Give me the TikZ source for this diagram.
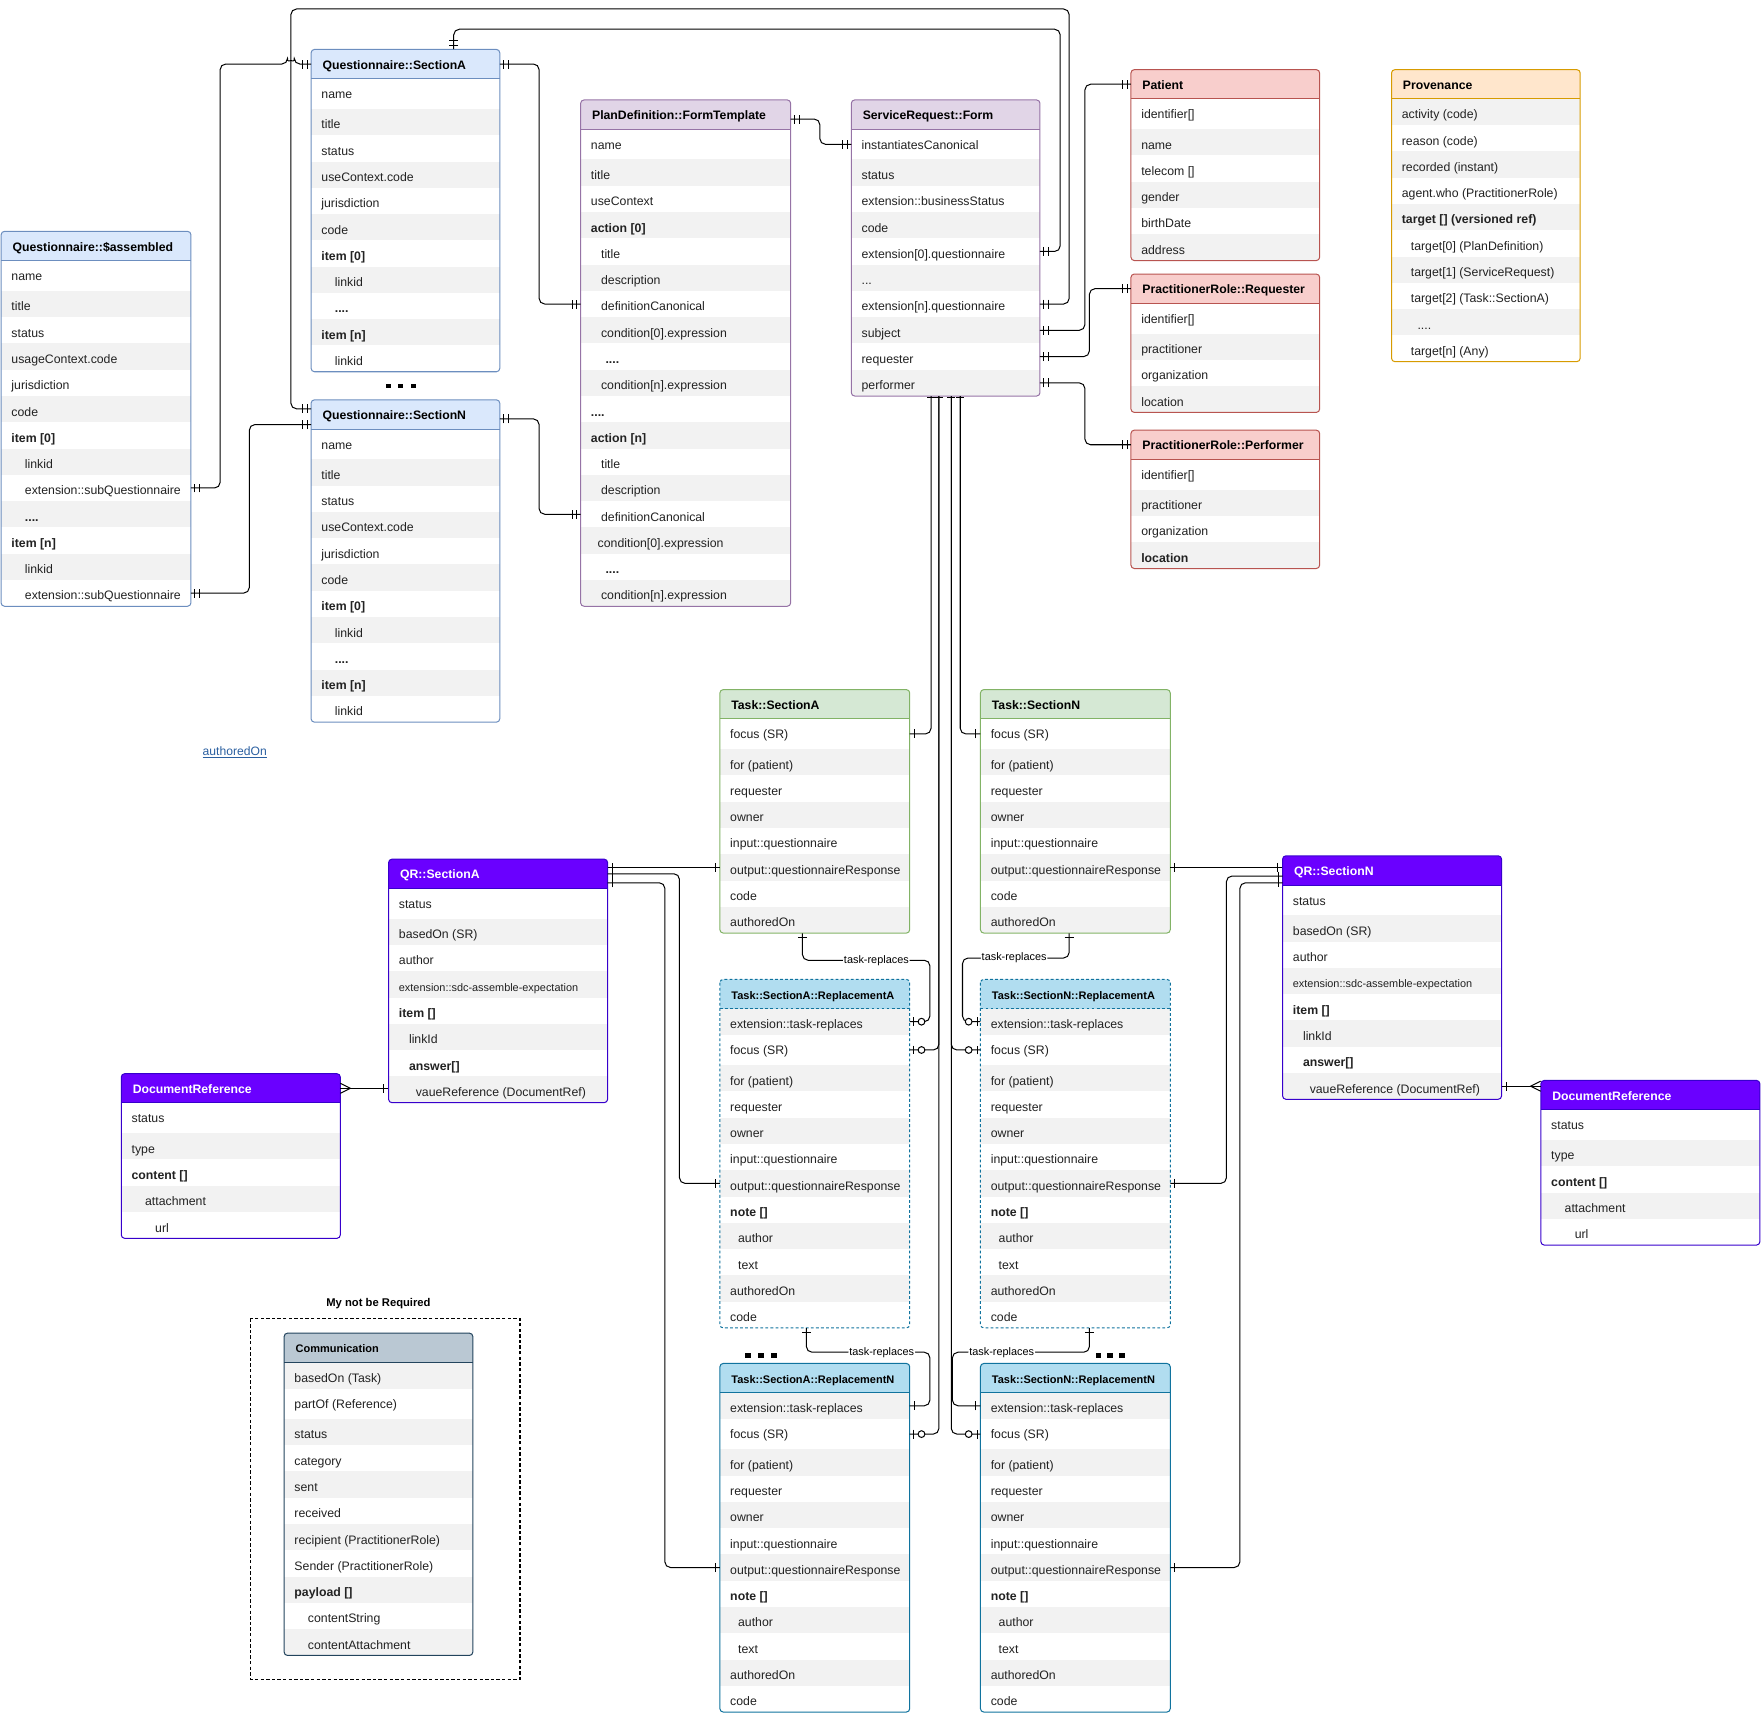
\documentclass[tikz,border=0pt]{standalone}
\usepackage{fontspec}
\setmainfont{Liberation Sans}
\usetikzlibrary{decorations.markings,fit}

\definecolor{hdrblue}{HTML}{DAE8FC}\definecolor{brdblue}{HTML}{6C8EBF}
\definecolor{hdrpurple}{HTML}{E1D5E7}\definecolor{brdpurple}{HTML}{9673A6}
\definecolor{hdrred}{HTML}{F8CECC}\definecolor{brdred}{HTML}{B85450}
\definecolor{hdrorange}{HTML}{FFE6CC}\definecolor{brdorange}{HTML}{D79B00}
\definecolor{hdrgreen}{HTML}{D5E8D4}\definecolor{brdgreen}{HTML}{82B366}
\definecolor{hdrlblue}{HTML}{B1DDF0}\definecolor{brdlblue}{HTML}{10739E}
\definecolor{hdrviolet}{HTML}{6A00FF}\definecolor{brdviolet}{HTML}{3700CC}
\definecolor{hdrslate}{HTML}{BAC8D3}\definecolor{brdslate}{HTML}{23445D}
\definecolor{rowgrey}{HTML}{F2F2F2}
\definecolor{txt}{HTML}{222222}
\definecolor{linkblue}{HTML}{2A5FA0}

\newcommand{\rhfont}{\fontsize{9.8}{11}\selectfont}
\newcommand{\sdcfont}{\fontsize{9.7}{11}\selectfont}

\tikzset{
  htxt/.style={anchor=base west, inner sep=0pt, font=\bfseries\fontsize{10.9}{13}\selectfont, text=black},
  rowtext/.style={anchor=base west, inner sep=0pt, font=\fontsize{10.95}{13}\selectfont, text=txt},
  hdr blue/.style={fill=hdrblue}, brd blue/.style={draw=brdblue}, htxt blue/.style={htxt},
  hdr purple/.style={fill=hdrpurple}, brd purple/.style={draw=brdpurple}, htxt purple/.style={htxt},
  hdr red/.style={fill=hdrred}, brd red/.style={draw=brdred}, htxt red/.style={htxt},
  hdr orange/.style={fill=hdrorange}, brd orange/.style={draw=brdorange}, htxt orange/.style={htxt},
  hdr green/.style={fill=hdrgreen}, brd green/.style={draw=brdgreen}, htxt green/.style={htxt},
  hdr lblue/.style={fill=hdrlblue}, brd lblue/.style={draw=brdlblue}, htxt lblue/.style={htxt},
  hdr lbluedash/.style={fill=hdrlblue}, brd lbluedash/.style={draw=brdlblue, dash pattern=on 2.5pt off 2pt}, htxt lbluedash/.style={htxt},
  hdr violet/.style={fill=hdrviolet}, brd violet/.style={draw=brdviolet}, htxt violet/.style={htxt, text=white},
  hdr slate/.style={fill=hdrslate}, brd slate/.style={draw=brdslate}, htxt slate/.style={htxt},
  conn/.style={draw=black, line width=0.9pt, rounded corners=5pt},
  mkl/.style={draw=black, line width=0.9pt, solid, sharp corners},
  mandS/.style={postaction={decorate, decoration={markings, mark=at position 0 with {\draw[mkl] (3.5pt,-4pt) -- (3.5pt,4pt) (7.5pt,-4pt) -- (7.5pt,4pt);}}}},
  mandE/.style={postaction={decorate, decoration={markings, mark=at position 1 with {\draw[mkl] (-3.5pt,-4pt) -- (-3.5pt,4pt) (-7.5pt,-4pt) -- (-7.5pt,4pt);}}}},
  edgeS/.style={postaction={decorate, decoration={markings, mark=at position 0 with {\draw[mkl, line width=1.4pt] (1.2pt,-3.6pt) -- (1.2pt,3.6pt);}}}},
  oneS/.style={postaction={decorate, decoration={markings, mark=at position 0 with {\draw[mkl] (4pt,-4pt) -- (4pt,4pt);}}}},
  oneE/.style={postaction={decorate, decoration={markings, mark=at position 1 with {\draw[mkl] (-4pt,-4pt) -- (-4pt,4pt);}}}},
  zoE/.style={postaction={decorate, decoration={markings, mark=at position 1 with {\draw[mkl] (-3pt,-4pt) -- (-3pt,4pt); \draw[mkl, fill=white] (-10.5pt,0pt) circle (3pt);}}}},
  manyS/.style={postaction={decorate, decoration={markings, mark=at position 0 with {\draw[mkl] (0pt,-4.5pt) -- (9pt,0pt) -- (0pt,4.5pt);}}}},
  manyE/.style={postaction={decorate, decoration={markings, mark=at position 1 with {\draw[mkl] (0pt,-4.5pt) -- (-9pt,0pt) -- (0pt,4.5pt);}}}},
  lbl/.style={fill=white, inner sep=0.8pt, font=\fontsize{9.7}{11}\selectfont, text=black},
  grouptitle/.style={font=\bfseries\fontsize{10}{12}\selectfont, text=black, inner sep=0pt},
  groupbox/.style={draw=black, line width=0.9pt, dash pattern=on 3pt off 2pt},
  linktext/.style={font=\fontsize{10.8}{13}\selectfont, text=linkblue, inner sep=0pt},
}

\newcount\ernrows
% #1 name, #2 x0, #3 x1, #4 ytop, #5 scheme, #6 header, #7 tall row index, #8 grey parity, #9 rows
\newcommand{\ertable}[9]{%
  \global\ernrows=0\relax
  \foreach \err in {#9}{\global\advance\ernrows by 1\relax}%
  \pgfmathsetmacro\erhb{#4+26}%
  \pgfmathsetmacro\erbot{#4+26+23.4*\the\ernrows+3.6*(#7<\the\ernrows)}%
  \begin{scope}
    \clip[rounded corners=3pt] (#2,#4) rectangle (#3,\erbot);
    \fill[white] (#2,#4) rectangle (#3,\erbot);
    \fill[hdr #5] (#2,#4) rectangle (#3,\erhb);
    \foreach \erind/\ertxt [count=\erk from 0] in {#9}{%
      \pgfmathsetmacro\eryt{\erhb+23.4*\erk+3.6*(\erk>#7)}%
      \pgfmathsetmacro\eryb{\eryt+23.4+3.6*(\erk==#7)}%
      \pgfmathtruncatemacro\ergrey{mod(\erk,2)==#8}%
      \ifnum\ergrey=1 \fill[rowgrey] (#2,\eryt) rectangle (#3,\eryb);\fi
    }%
  \end{scope}
  \draw[brd #5, line width=0.9pt, rounded corners=3pt] (#2,#4) rectangle (#3,\erbot);
  \draw[brd #5, line width=0.9pt] (#2,\erhb) -- (#3,\erhb);
  \node[inner sep=0pt, fit={(#2,#4) (#3,\erbot)}] (#1) {};
  \node[htxt #5] (#1-t) at (#2+10,#4+17.5) {#6};
  \coordinate (#1-h-w) at (#2,#4+13);
  \coordinate (#1-h-e) at (#3,#4+13);
  \foreach \erind/\ertxt [count=\erk from 0] in {#9}{%
    \pgfmathsetmacro\eryt{\erhb+23.4*\erk+3.6*(\erk>#7)}%
    \pgfmathsetmacro\eryb{\eryt+23.4+3.6*(\erk==#7)}%
    \node[rowtext] (#1-r\erk) at (#2+\erind,\eryt+17.8) {\ertxt};
    \coordinate (#1-\erk-w) at (#2,{(\eryt+\eryb)/2});
    \coordinate (#1-\erk-e) at (#3,{(\eryt+\eryb)/2});
  }%
}

\begin{document}
\begin{tikzpicture}[x=1pt,y=-1pt]
\useasboundingbox (0,0) rectangle (1568,1527);

% ---------- tables ----------
\ertable{qas}{1}{170}{206}{blue}{Questionnaire::\$assembled}{0}{1}{9/{name}, 9/{title}, 9/{status}, 9/{usageContext.code}, 9/{jurisdiction}, 9/{code}, 9/{\textbf{item [0]}}, 21/{linkid}, 21/{extension::subQuestionnaire}, 21/{\textbf{....}}, 9/{\textbf{item [n]}}, 21/{linkid}, 21/{extension::subQuestionnaire}}

\ertable{qa}{277}{445}{44}{blue}{Questionnaire::SectionA}{0}{1}{9/{name}, 9/{title}, 9/{status}, 9/{useContext.code}, 9/{jurisdiction}, 9/{code}, 9/{\textbf{item [0]}}, 21/{linkid}, 21/{\textbf{....}}, 9/{\textbf{item [n]}}, 21/{linkid}}

\ertable{qn}{277}{445}{356}{blue}{Questionnaire::SectionN}{0}{1}{9/{name}, 9/{title}, 9/{status}, 9/{useContext.code}, 9/{jurisdiction}, 9/{code}, 9/{\textbf{item [0]}}, 21/{linkid}, 21/{\textbf{....}}, 9/{\textbf{item [n]}}, 21/{linkid}}

\ertable{pd}{517}{704}{89}{purple}{PlanDefinition::FormTemplate}{0}{1}{9/{name}, 9/{title}, 9/{useContext}, 9/{\textbf{action [0]}}, 18/{title}, 18/{description}, 18/{definitionCanonical}, 18/{condition[0].expression}, 22/{\textbf{....}}, 18/{condition[n].expression}, 9/{\textbf{....}}, 9/{\textbf{action [n]}}, 18/{title}, 18/{description}, 18/{definitionCanonical}, 15/{condition[0].expression}, 22/{\textbf{....}}, 18/{condition[n].expression}}

\ertable{sr}{758}{926}{89}{purple}{ServiceRequest::Form}{0}{1}{9/{instantiatesCanonical}, 9/{status}, 9/{extension::businessStatus}, 9/{code}, 9/{extension[0].questionnaire}, 9/{...}, 9/{extension[n].questionnaire}, 9/{subject}, 9/{requester}, 9/{performer}}

\ertable{pat}{1007}{1175}{62}{red}{Patient}{0}{1}{9/{identifier[]}, 9/{name}, 9/{telecom []}, 9/{gender}, 9/{birthDate}, 9/{address}}

\ertable{prq}{1007}{1175}{244}{red}{PractitionerRole::Requester}{0}{1}{9/{identifier[]}, 9/{practitioner}, 9/{organization}, 9/{location}}

\ertable{prp}{1007}{1175}{383}{red}{PractitionerRole::Performer}{0}{1}{9/{identifier[]}, 9/{practitioner}, 9/{organization}, 9/{\textbf{location}}}

\ertable{prov}{1239}{1407}{62}{orange}{Provenance}{99}{0}{9/{activity (code)}, 9/{reason (code)}, 9/{recorded (instant)}, 9/{agent.who (PractitionerRole)}, 9/{\textbf{target [] (versioned ref)}}, 17/{target[0] (PlanDefinition)}, 17/{target[1] (ServiceRequest)}, 17/{target[2] (Task::SectionA)}, 23/{....}, 17/{target[n] (Any)}}

\ertable{ta}{641}{810}{614}{green}{Task::SectionA}{0}{1}{9/{focus (SR)}, 9/{for (patient)}, 9/{requester}, 9/{owner}, 9/{input::questionnaire}, 9/{output::questionnaireResponse}, 9/{code}, 9/{authoredOn}}

\ertable{tn}{873}{1042}{614}{green}{Task::SectionN}{0}{1}{9/{focus (SR)}, 9/{for (patient)}, 9/{requester}, 9/{owner}, 9/{input::questionnaire}, 9/{output::questionnaireResponse}, 9/{code}, 9/{authoredOn}}

\ertable{raa}{641}{810}{872}{lbluedash}{\rhfont Task::SectionA::ReplacementA}{1}{0}{9/{extension::task-replaces}, 9/{focus (SR)}, 9/{for (patient)}, 9/{requester}, 9/{owner}, 9/{input::questionnaire}, 9/{output::questionnaireResponse}, 9/{\textbf{note []}}, 16/{author}, 16/{text}, 9/{authoredOn}, 9/{code}}

\ertable{rna}{873}{1042}{872}{lbluedash}{\rhfont Task::SectionN::ReplacementA}{1}{0}{9/{extension::task-replaces}, 9/{focus (SR)}, 9/{for (patient)}, 9/{requester}, 9/{owner}, 9/{input::questionnaire}, 9/{output::questionnaireResponse}, 9/{\textbf{note []}}, 16/{author}, 16/{text}, 9/{authoredOn}, 9/{code}}

\ertable{ran}{641}{810}{1214}{lblue}{\rhfont Task::SectionA::ReplacementN}{1}{0}{9/{extension::task-replaces}, 9/{focus (SR)}, 9/{for (patient)}, 9/{requester}, 9/{owner}, 9/{input::questionnaire}, 9/{output::questionnaireResponse}, 9/{\textbf{note []}}, 16/{author}, 16/{text}, 9/{authoredOn}, 9/{code}}

\ertable{rnn}{873}{1042}{1214}{lblue}{\rhfont Task::SectionN::ReplacementN}{1}{0}{9/{extension::task-replaces}, 9/{focus (SR)}, 9/{for (patient)}, 9/{requester}, 9/{owner}, 9/{input::questionnaire}, 9/{output::questionnaireResponse}, 9/{\textbf{note []}}, 16/{author}, 16/{text}, 9/{authoredOn}, 9/{code}}

\ertable{qra}{346}{541}{765}{violet}{QR::SectionA}{0}{1}{9/{status}, 9/{basedOn (SR)}, 9/{author}, 9/{\sdcfont extension::sdc-assemble-expectation}, 9/{\textbf{item []}}, 18/{linkId}, 18/{\textbf{answer[]}}, 24/{vaueReference (DocumentRef)}}

\ertable{qrn}{1142}{1337}{762}{violet}{QR::SectionN}{0}{1}{9/{status}, 9/{basedOn (SR)}, 9/{author}, 9/{\sdcfont extension::sdc-assemble-expectation}, 9/{\textbf{item []}}, 18/{linkId}, 18/{\textbf{answer[]}}, 24/{vaueReference (DocumentRef)}}

\ertable{drl}{108}{303}{956}{violet}{DocumentReference}{0}{1}{9/{status}, 9/{type}, 9/{\textbf{content []}}, 21/{attachment}, 30/{url}}

\ertable{drr}{1372}{1567}{962}{violet}{DocumentReference}{0}{1}{9/{status}, 9/{type}, 9/{\textbf{content []}}, 21/{attachment}, 30/{url}}

% ---------- optional group ----------
\draw[groupbox] (223,1174) rectangle (463,1495);
\node[grouptitle] (mnbr) at (337,1161) {My not be Required};
\ertable{com}{253}{421}{1187}{slate}{\rhfont Communication}{1}{0}{9/{basedOn (Task)}, 9/{partOf (Reference)}, 9/{status}, 9/{category}, 9/{sent}, 9/{received}, 9/{recipient (PractitionerRole)}, 9/{Sender (PractitionerRole)}, 9/{\textbf{payload []}}, 21/{contentString}, 21/{contentAttachment}}

% stray link text
\node[linktext] (stray) at (209,670) {\underline{authoredOn}};

% ellipsis squares
\foreach \dx in {346,357,368} \fill (\dx-2.2,341.5) rectangle ++(4.4,4.4);
\foreach \dx in {666,677.5,689} \fill (\dx-2.4,1204.3) rectangle ++(4.8,4.8);
\foreach \dx in {978,988.5,999} \fill (\dx-2.4,1204.3) rectangle ++(4.8,4.8);

% ---------- connectors ----------
\draw[conn,mandS,mandE] (qas-8-e) -| ([xshift=-81pt]qa-h-w) -- ([xshift=-21pt]qa-h-w) arc[start angle=180,end angle=0,radius=3pt] -- (qa-h-w);
\draw[conn,mandS,mandE] (qas-12-e) -| ([xshift=-55pt,yshift=-9pt]qn-h-w) -- ([yshift=-9pt]qn-h-w);
\draw[conn,mandS,mandE] ([yshift=5pt]qn-h-w) -| (259,8) -- (952,8) |- (sr-6-e);
\draw[conn,mandS,mandE] ([xshift=43pt]qa.north) |- (944,26) |- (sr-4-e);
\draw[conn,mandS,mandE] (qa-h-e) -- ++(35,0) |- (pd-6-w);
\draw[conn,mandS,mandE] ([yshift=-4pt]qn-h-e) -- ++(35,0) |- (pd-14-w);
\draw[conn,mandS,mandE] ([yshift=-4pt]pd-h-e) -- ++(26,0) |- (sr-0-w);
\draw[conn,mandS,mandE] (sr-7-e) -- ++(40,0) |- (pat-h-w);
\draw[conn,mandS,mandE] (sr-8-e) -- ++(44,0) |- (prq-h-w);
\draw[conn,mandS,mandE] (sr-9-e) -- ++(40,0) |- (prp-h-w);

\draw[conn,edgeS,oneE] ([xshift=-13pt]sr.south) |- (ta-0-e);
\draw[conn,edgeS,zoE] ([xshift=-6pt]sr.south) |- (raa-1-e);
\draw[conn,edgeS,zoE] ([xshift=-6pt]sr.south) |- (ran-1-e);
\draw[conn,edgeS,zoE] ([xshift=5pt]sr.south) |- (rna-1-w);
\draw[conn,edgeS,zoE] ([xshift=5pt]sr.south) |- (rnn-1-w);
\draw[conn,edgeS,oneE] ([xshift=13pt]sr.south) |- (tn-0-w);

\draw[conn,oneS,zoE] ([xshift=-11pt]ta.south) |- node[lbl,pos=0.79] (tr1) {task-replaces} (828,855) |- (raa-0-e);
\draw[conn,oneS,zoE] ([xshift=-5.5pt]tn.south) |- node[lbl,pos=0.758] (tr2) {task-replaces} (857,853) |- (rna-0-w);
\draw[conn,oneS,oneE] ([xshift=-7.5pt]raa.south) |- node[lbl,pos=0.805] (tr3) {task-replaces} (828,1204) |- (ran-0-e);
\draw[conn,oneS,oneE] ([xshift=12.5pt]rna.south) |- node[lbl,pos=0.82] (tr4) {task-replaces} (848,1204) |- (rnn-0-w);

\draw[conn,oneS,oneE] (qra.east |- ta-5-w) -- (ta-5-w);
\draw[conn,oneS,oneE] (qra-h-e) -- ++(64,0) |- (raa-6-w);
\draw[conn,oneS,oneE] ([yshift=-8pt]qra-h-e) -- ++(51,0) |- (ran-6-w);
\draw[conn,oneS,oneE] (qrn.west |- tn-5-e) -- (tn-5-e);
\draw[conn,oneS,oneE] ([yshift=-5pt]qrn-h-w) -- ++(-50,0) |- (rna-6-e);
\draw[conn,oneS,oneE] ([yshift=-11pt]qrn-h-w) -- ++(-38,0) |- (rnn-6-e);

\draw[conn,manyS,oneE] (drl-h-e) -- (qra.west |- drl-h-e);
\draw[conn,oneS,manyE] (qrn-7-e) -- (drr.west |- qrn-7-e);
\end{tikzpicture}
\end{document}
